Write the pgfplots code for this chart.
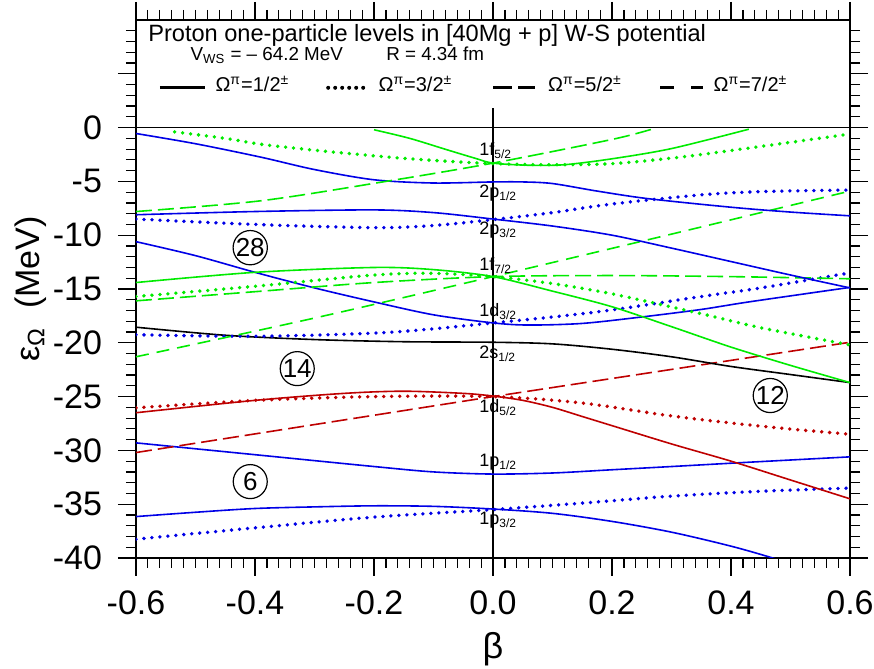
\documentclass[border=0pt]{standalone}
\usepackage{fontspec}
\setmainfont{Liberation Sans}
\usepackage{pgfplots}
\pgfplotsset{compat=1.18}
\definecolor{cblue}{RGB}{0,0,230}
\definecolor{cgreen}{RGB}{0,235,0}
\definecolor{cred}{RGB}{190,0,0}
\tikzset{
  om1/.style={line width=0.8pt},
  om3/.style={line width=1.9pt, line cap=round, dash pattern=on 0pt off 4pt},
  om5/.style={line width=0.8pt, dash pattern=on 8pt off 3pt},
  om7/.style={line width=0.8pt, dash pattern=on 6.5pt off 4pt},
}
\begin{document}
\begin{tikzpicture}
\begin{axis}[
  at={(68pt,55.5pt)}, anchor=south west,
  scale only axis, width=357pt, height=269pt,
  xmin=-0.6, xmax=0.6, ymin=-40, ymax=10,
  xtick={-0.6,-0.4,...,0.61}, minor x tick num=9,
  ytick={-40,-35,...,0}, minor ytick={-39,...,9},
  extra y ticks={5}, extra y tick labels={},
  tick align=outside, major tick length=9pt, minor tick length=5pt,
  /pgf/number format/assume math mode=true,
  tick label style={font=\fontsize{17}{19}\selectfont},
  xticklabel style={yshift=-4pt, /pgf/number format/.cd, fixed, fixed zerofill, precision=1},
  yticklabel style={xshift=-4.5pt},
  xlabel={β}, ylabel={ε\textsubscript{Ω}\ \ (MeV)},
  xlabel style={at={(axis description cs:0.5,-0.17)}, anchor=center, inner sep=0pt, font=\fontsize{18}{20}\selectfont},
  ylabel style={at={(axis description cs:-0.148,0.5)}, anchor=center, inner sep=0pt, font=\fontsize{17}{20}\selectfont},
  axis line style={line width=0.8pt},
  every tick/.style={black, line width=0.6pt},
]
% frame lines
\addplot[black, line width=0.6pt] coordinates {(-0.6,0) (0.6,0)};
\addplot[black, line width=0.6pt] coordinates {(0,-40) (0,1.85)};

% 1p3/2
\addplot[cblue, om1, smooth] coordinates {(-0.6,-36.15) (-0.5,-35.75) (-0.4,-35.4) (-0.3,-35.25) (-0.2,-35.15) (-0.1,-35.2) (0,-35.45) (0.1,-35.85) (0.2,-36.6) (0.3,-37.6) (0.4,-38.9) (0.47,-40.0) (0.5,-40.6)};
\addplot[cblue, om3, smooth] coordinates {(-0.6,-38.25) (-0.4,-37.2) (-0.2,-36.2) (0,-35.5) (0.15,-34.9) (0.3,-34.25) (0.45,-33.8) (0.6,-33.5)};
% 1p1/2
\addplot[cblue, om1, smooth] coordinates {(-0.6,-29.3) (-0.4,-30.4) (-0.2,-31.5) (-0.1,-32.0) (0,-32.2) (0.1,-32.1) (0.2,-31.8) (0.3,-31.5) (0.43,-31.1) (0.6,-30.6)};
% 1d5/2
\addplot[cred, om1, smooth] coordinates {(-0.6,-26.5) (-0.4,-25.35) (-0.25,-24.7) (-0.15,-24.5) (-0.05,-24.7) (0,-24.95) (0.05,-25.35) (0.1,-26.0) (0.15,-26.85) (0.2,-27.7) (0.3,-29.4) (0.4,-31.0) (0.5,-32.75) (0.6,-34.5)};
\addplot[cred, om3, smooth] coordinates {(-0.6,-26.05) (-0.4,-25.35) (-0.2,-25.0) (0,-25.0) (0.15,-25.6) (0.3,-26.8) (0.45,-27.75) (0.6,-28.5)};
\addplot[cred, om5] coordinates {(-0.6,-30.2) (0,-25.0) (0.6,-19.95)};
% 2s1/2
\addplot[black, om1, smooth] coordinates {(-0.6,-18.55) (-0.45,-19.3) (-0.3,-19.7) (-0.15,-19.9) (0,-19.95) (0.1,-20.1) (0.2,-20.6) (0.3,-21.3) (0.4,-22.2) (0.5,-22.95) (0.6,-23.7)};
% 1d3/2
\addplot[cblue, om1, smooth] coordinates {(-0.6,-10.6) (-0.5,-11.9) (-0.4,-13.45) (-0.3,-14.9) (-0.2,-16.2) (-0.1,-17.4) (0,-18.15) (0.06,-18.35) (0.15,-18.2) (0.25,-17.6) (0.35,-16.9) (0.43,-16.2) (0.6,-14.85)};
\addplot[cblue, om3, smooth] coordinates {(-0.6,-19.25) (-0.4,-19.4) (-0.2,-19.1) (-0.1,-18.7) (0,-18.15) (0.1,-17.6) (0.2,-16.95) (0.35,-15.7) (0.45,-14.9) (0.6,-13.5)};
% 1f7/2
\addplot[cgreen, om1, smooth] coordinates {(-0.6,-14.4) (-0.4,-13.45) (-0.2,-13.0) (-0.1,-13.2) (0,-13.85) (0.1,-15.2) (0.2,-16.65) (0.3,-18.5) (0.4,-20.4) (0.5,-22.1) (0.6,-23.7)};
\addplot[cgreen, om3, smooth] coordinates {(-0.6,-15.7) (-0.4,-14.75) (-0.2,-13.7) (-0.1,-13.55) (0,-13.85) (0.1,-14.5) (0.2,-15.45) (0.35,-17.3) (0.45,-18.6) (0.6,-20.2)};
\addplot[cgreen, om5, smooth] coordinates {(-0.6,-16.1) (-0.4,-15.25) (-0.2,-14.4) (0,-13.85) (0.2,-13.75) (0.4,-13.85) (0.6,-14.05)};
\addplot[cgreen, om7, smooth] coordinates {(-0.6,-21.3) (-0.3,-17.7) (0,-13.85) (0.3,-9.9) (0.6,-5.9)};
% 2p3/2
\addplot[cblue, om1, smooth] coordinates {(-0.6,-8.1) (-0.4,-7.8) (-0.2,-7.65) (-0.1,-7.9) (0,-8.5) (0.1,-9.15) (0.2,-10.0) (0.3,-11.2) (0.4,-12.45) (0.5,-13.7) (0.6,-14.9)};
\addplot[cblue, om3, smooth] coordinates {(-0.6,-8.5) (-0.4,-9.0) (-0.2,-9.3) (-0.1,-9.1) (0,-8.55) (0.1,-7.9) (0.2,-7.1) (0.35,-6.25) (0.45,-5.95) (0.6,-5.8)};
% 2p1/2
\addplot[cblue, om1, smooth] coordinates {(-0.6,-0.55) (-0.5,-1.5) (-0.39,-2.75) (-0.3,-3.9) (-0.2,-4.85) (-0.1,-5.15) (0,-5.05) (0.05,-5.05) (0.1,-5.2) (0.175,-5.9) (0.26,-6.6) (0.4,-7.4) (0.5,-7.85) (0.6,-8.2)};
% 1f5/2
\addplot[cgreen, om1, smooth] coordinates {(-0.2,-0.2) (-0.14,-1.0) (-0.078,-2.05) (-0.03,-2.85) (0,-3.3) (0.06,-3.5) (0.12,-3.45) (0.2,-2.9) (0.3,-1.95) (0.43,-0.15)};
\addplot[cgreen, om3, smooth] coordinates {(-0.535,-0.4) (-0.45,-1.0) (-0.39,-1.55) (-0.3,-2.1) (-0.185,-2.7) (-0.1,-3.05) (0,-3.35) (0.1,-3.45) (0.2,-3.35) (0.314,-2.75) (0.45,-1.75) (0.6,-0.6)};
\addplot[cgreen, om5, smooth] coordinates {(-0.6,-7.8) (-0.39,-6.8) (-0.18,-5.0) (0,-3.3) (0.2,-1.1) (0.27,-0.1)};

% legend samples
\addplot[black, line width=1.5pt] coordinates {(-0.56,3.7) (-0.484,3.7)};
\addplot[black, line width=2pt, line cap=round, dash pattern=on 0pt off 3.5pt] coordinates {(-0.277,3.7) (-0.207,3.7)};
\addplot[black, line width=1.5pt, dash pattern=on 9.5pt off 3pt] coordinates {(0.0,3.7) (0.071,3.7)};
\addplot[black, line width=1.5pt, dash pattern=on 7pt off 8.5pt] coordinates {(0.281,3.7) (0.353,3.7)};

% header texts
\node[anchor=base west, font=\fontsize{11.8}{13}\selectfont, inner sep=0pt] at (axis cs:-0.58,8.0) {Proton one-particle levels in [40Mg + p] W-S potential};
\node[anchor=base west, font=\fontsize{9.4}{11}\selectfont, inner sep=0pt] at (axis cs:-0.509,6.2) {V\textsubscript{WS} = – 64.2 MeV};
\node[anchor=base west, font=\fontsize{9.4}{11}\selectfont, inner sep=0pt] at (axis cs:-0.18,6.2) {R = 4.34 fm};
\begin{scope}[every node/.style={anchor=base west, inner sep=0pt, font=\fontsize{10}{11}\selectfont}]
\node at (axis cs:-0.467,3.35) {Ω\textsuperscript{π}=1/2\textsuperscript{±}};
\node at (axis cs:-0.193,3.35) {Ω\textsuperscript{π}=3/2\textsuperscript{±}};
\node at (axis cs:0.092,3.35) {Ω\textsuperscript{π}=5/2\textsuperscript{±}};
\node at (axis cs:0.37,3.35) {Ω\textsuperscript{π}=7/2\textsuperscript{±}};
\end{scope}

% orbital labels
\begin{scope}[every node/.style={anchor=base west, inner sep=0pt, font=\fontsize{9}{10}\selectfont}]
\node at (axis cs:-0.0235,-2.6) {1f\textsubscript{5/2}};
\node at (axis cs:-0.0235,-6.5) {2p\textsubscript{1/2}};
\node at (axis cs:-0.0235,-9.95) {2p\textsubscript{3/2}};
\node at (axis cs:-0.0235,-13.3) {1f\textsubscript{7/2}};
\node at (axis cs:-0.0235,-17.6) {1d\textsubscript{3/2}};
\node at (axis cs:-0.0235,-21.5) {2s\textsubscript{1/2}};
\node at (axis cs:-0.0235,-26.5) {1d\textsubscript{5/2}};
\node at (axis cs:-0.0235,-31.5) {1p\textsubscript{1/2}};
\node at (axis cs:-0.0235,-36.9) {1p\textsubscript{3/2}};
\end{scope}

% magic numbers
\begin{scope}[every node/.style={draw, circle, line width=0.6pt, minimum size=17pt, inner sep=0pt, font=\fontsize{13}{15}\selectfont}]
\node at (axis cs:-0.408,-11.16) {28};
\node at (axis cs:-0.329,-22.4) {14};
\node at (axis cs:-0.408,-32.9) {6};
\node at (axis cs:0.466,-24.9) {12};
\end{scope}
\end{axis}
\pgfresetboundingbox
\path[use as bounding box] (0,0) rectangle (437pt,334.5pt);
\end{tikzpicture}
\end{document}
